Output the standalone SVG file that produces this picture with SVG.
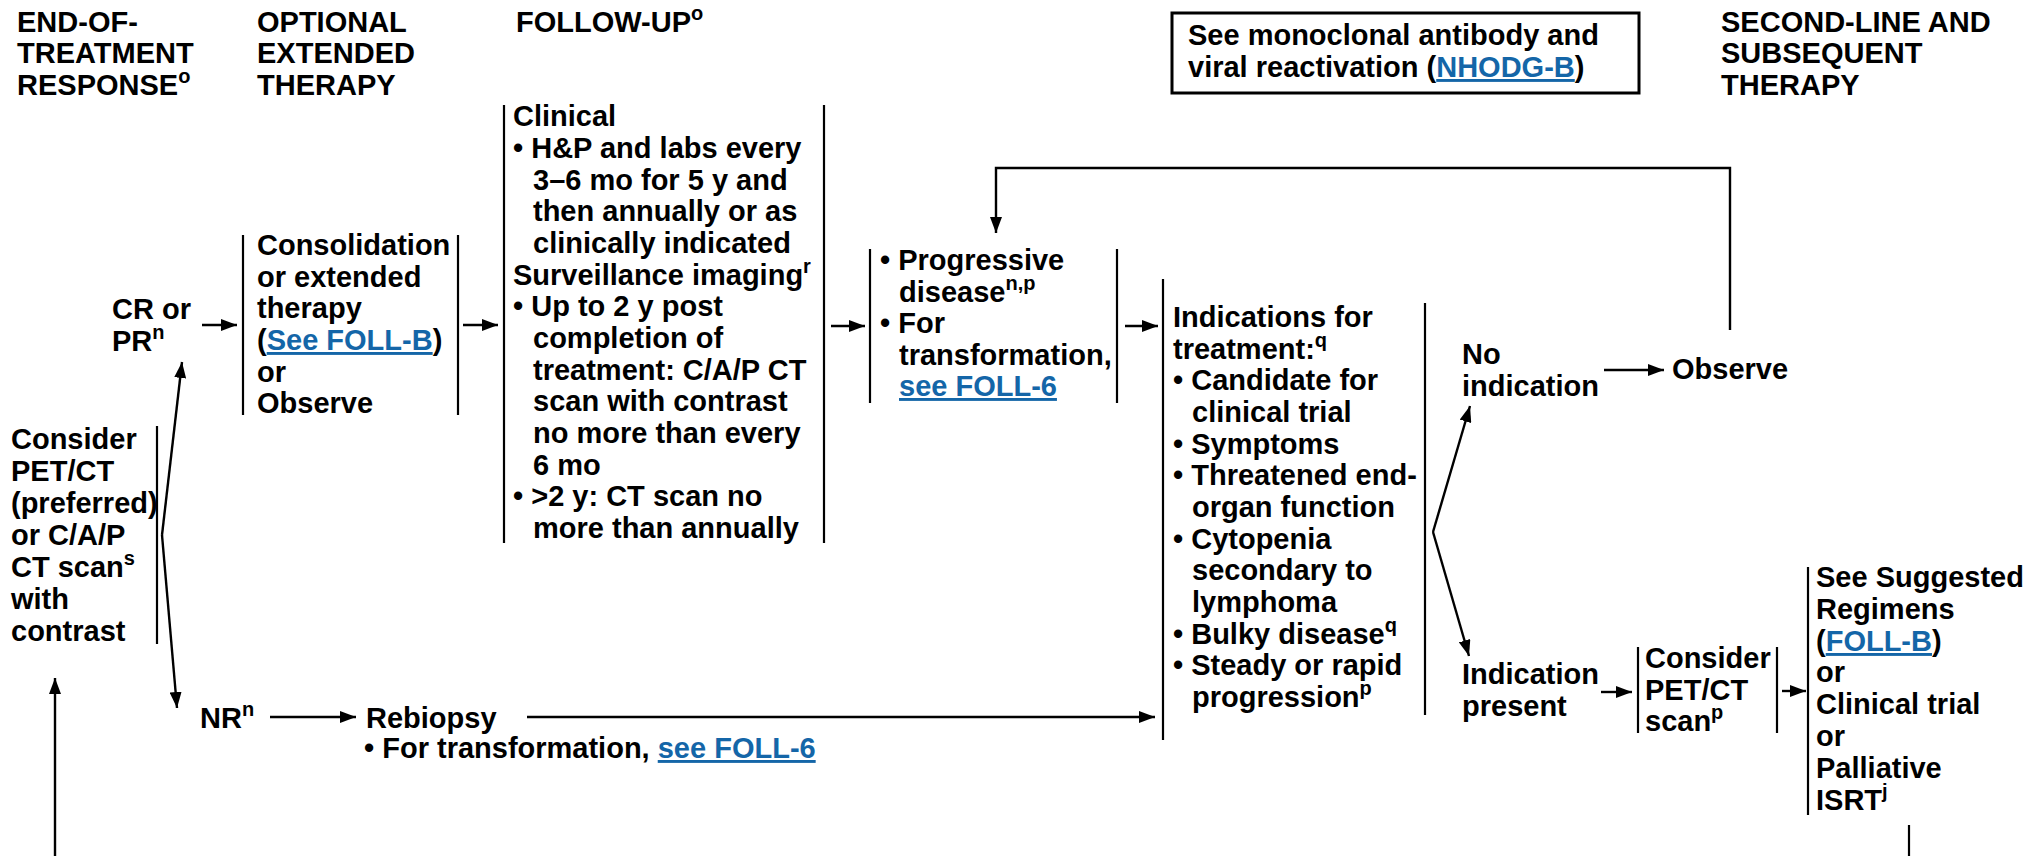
<svg xmlns="http://www.w3.org/2000/svg" width="2032" height="856" viewBox="0 0 2032 856">
<style>
text { font-family: "Liberation Sans", Arial, Helvetica, sans-serif; font-weight: bold; font-size: 29px; fill: #000; }
.sup { font-size: 20px; }
.link { fill: #1466a8; text-decoration: underline; }
.ln { stroke: #000; stroke-width: 2.2; fill: none; }
.br { stroke: #000; stroke-width: 2.2; fill: none; }
.ar { stroke: #000; stroke-width: 2.4; fill: none; marker-end: url(#ah); }
</style>
<defs>
<marker id="ah" viewBox="0 0 16 12" refX="16" refY="6" markerWidth="16" markerHeight="12" markerUnits="userSpaceOnUse" orient="auto">
<path d="M0,0 L16,6 L0,12 z" fill="#000"/>
</marker>
</defs>
<rect width="2032" height="856" fill="#fff"/>

<g id="headers">
<text><tspan x="17" y="32">END-OF-</tspan><tspan x="17" y="63">TREATMENT</tspan><tspan x="17" y="95">RESPONSE<tspan class="sup" dy="-12">o</tspan></tspan></text>
<text><tspan x="257" y="32">OPTIONAL</tspan><tspan x="257" y="63">EXTENDED</tspan><tspan x="257" y="95">THERAPY</tspan></text>
<text><tspan x="516" y="32">FOLLOW-UP<tspan class="sup" dy="-12">o</tspan></tspan></text>
<text><tspan x="1721" y="32">SECOND-LINE AND</tspan><tspan x="1721" y="63">SUBSEQUENT</tspan><tspan x="1721" y="95">THERAPY</tspan></text>
</g>

<g id="note-box">
<rect x="1172" y="13" width="467" height="80" fill="none" stroke="#000" stroke-width="3"/>
<text><tspan x="1188" y="45">See monoclonal antibody and</tspan><tspan x="1188" y="77">viral reactivation (<tspan class="link">NHODG-B</tspan>)</tspan></text>
</g>

<g id="consider-petct">
<text><tspan x="11" y="449">Consider</tspan><tspan x="11" y="481">PET/CT</tspan><tspan x="11" y="513">(preferred)</tspan><tspan x="11" y="545">or C/A/P</tspan><tspan x="11" y="577">CT scan<tspan class="sup" dy="-12">s</tspan></tspan><tspan x="11" y="609">with</tspan><tspan x="11" y="641">contrast</tspan></text>
<line class="br" x1="157" y1="426" x2="157" y2="644"/>
</g>

<g id="cr-pr">
<text><tspan x="112" y="319">CR or</tspan><tspan x="112" y="351">PR<tspan class="sup" dy="-12">n</tspan></tspan></text>
</g>

<g id="nr">
<text><tspan x="200" y="728">NR<tspan class="sup" dy="-12">n</tspan></tspan></text>
</g>

<g id="consolidation">
<line class="br" x1="243" y1="235" x2="243" y2="415"/>
<line class="br" x1="458" y1="235" x2="458" y2="415"/>
<text><tspan x="257" y="255">Consolidation</tspan><tspan x="257" y="287">or extended</tspan><tspan x="257" y="318">therapy</tspan><tspan x="257" y="350">(<tspan class="link">See FOLL-B</tspan>)</tspan><tspan x="257" y="382">or</tspan><tspan x="257" y="413">Observe</tspan></text>
</g>

<g id="follow-up">
<line class="br" x1="504" y1="105" x2="504" y2="543"/>
<line class="br" x1="824" y1="105" x2="824" y2="543"/>
<text><tspan x="513" y="126">Clinical</tspan><tspan x="513" y="158">• H&amp;P and labs every</tspan><tspan x="533" y="190">3–6 mo for 5 y and</tspan><tspan x="533" y="221">then annually or as</tspan><tspan x="533" y="253">clinically indicated</tspan><tspan x="513" y="285">Surveillance imaging<tspan class="sup" dy="-12">r</tspan></tspan><tspan x="513" y="316">• Up to 2 y post</tspan><tspan x="533" y="348">completion of</tspan><tspan x="533" y="380">treatment: C/A/P CT</tspan><tspan x="533" y="411">scan with contrast</tspan><tspan x="533" y="443">no more than every</tspan><tspan x="533" y="475">6 mo</tspan><tspan x="513" y="506">• &gt;2 y: CT scan no</tspan><tspan x="533" y="538">more than annually</tspan></text>
</g>

<g id="progressive">
<line class="br" x1="870" y1="249" x2="870" y2="403"/>
<line class="br" x1="1117" y1="249" x2="1117" y2="403"/>
<text><tspan x="880" y="270">• Progressive</tspan><tspan x="899" y="302">disease<tspan class="sup" dy="-12">n,p</tspan></tspan><tspan x="880" y="333">• For</tspan><tspan x="899" y="365">transformation,</tspan><tspan x="899" y="396" class="link">see FOLL-6</tspan></text>
</g>

<g id="rebiopsy">
<text><tspan x="366" y="728">Rebiopsy</tspan><tspan x="364" y="758">• For transformation, <tspan class="link">see FOLL-6</tspan></tspan></text>
</g>

<g id="indications">
<line class="br" x1="1163" y1="279" x2="1163" y2="740"/>
<line class="br" x1="1425" y1="303" x2="1425" y2="715"/>
<text><tspan x="1173" y="327">Indications for</tspan><tspan x="1173" y="359">treatment:<tspan class="sup" dy="-12">q</tspan></tspan><tspan x="1173" y="390">• Candidate for</tspan><tspan x="1192" y="422">clinical trial</tspan><tspan x="1173" y="454">• Symptoms</tspan><tspan x="1173" y="485">• Threatened end-</tspan><tspan x="1192" y="517">organ function</tspan><tspan x="1173" y="549">• Cytopenia</tspan><tspan x="1192" y="580">secondary to</tspan><tspan x="1192" y="612">lymphoma</tspan><tspan x="1173" y="644">• Bulky disease<tspan class="sup" dy="-12">q</tspan></tspan><tspan x="1173" y="675">• Steady or rapid</tspan><tspan x="1192" y="707">progression<tspan class="sup" dy="-12">p</tspan></tspan></text>
</g>

<g id="no-indication">
<text><tspan x="1462" y="364">No</tspan><tspan x="1462" y="396">indication</tspan></text>
</g>

<g id="observe">
<text><tspan x="1672" y="379">Observe</tspan></text>
</g>

<g id="indication-present">
<text><tspan x="1462" y="684">Indication</tspan><tspan x="1462" y="716">present</tspan></text>
</g>

<g id="consider-petct-2">
<line class="br" x1="1638" y1="647" x2="1638" y2="733"/>
<line class="br" x1="1777" y1="647" x2="1777" y2="733"/>
<text><tspan x="1645" y="668">Consider</tspan><tspan x="1645" y="700">PET/CT</tspan><tspan x="1645" y="731">scan<tspan class="sup" dy="-12">p</tspan></tspan></text>
</g>

<g id="second-line">
<line class="br" x1="1808" y1="567" x2="1808" y2="815"/>
<text><tspan x="1816" y="587">See Suggested</tspan><tspan x="1816" y="619">Regimens</tspan><tspan x="1816" y="651">(<tspan class="link">FOLL-B</tspan>)</tspan><tspan x="1816" y="682">or</tspan><tspan x="1816" y="714">Clinical trial</tspan><tspan x="1816" y="746">or</tspan><tspan x="1816" y="778">Palliative</tspan><tspan x="1816" y="810">ISRT<tspan class="sup" dy="-12">j</tspan></tspan></text>
</g>

<g id="connectors">
<polyline class="ar" points="162,535 182,362"/>
<polyline class="ar" points="162,535 177,708"/>
<line class="ar" x1="202" y1="325" x2="237" y2="325"/>
<line class="ar" x1="463" y1="325" x2="498" y2="325"/>
<line class="ar" x1="831" y1="326" x2="865" y2="326"/>
<line class="ar" x1="1125" y1="326" x2="1158" y2="326"/>
<polyline class="ar" points="1730,330 1730,168 996,168 996,233"/>
<line class="ar" x1="270" y1="717" x2="356" y2="717"/>
<line class="ar" x1="527" y1="717" x2="1155" y2="717"/>
<polyline class="ar" points="1433,532 1470,406"/>
<polyline class="ar" points="1433,532 1469,656"/>
<line class="ar" x1="1604" y1="370" x2="1664" y2="370"/>
<line class="ar" x1="1601" y1="692" x2="1632" y2="692"/>
<line class="ar" x1="1782" y1="691" x2="1806" y2="691"/>
<line class="ar" x1="55" y1="856" x2="55" y2="678"/>
<line class="ln" x1="1909" y1="825" x2="1909" y2="856"/>
</g>
</svg>
